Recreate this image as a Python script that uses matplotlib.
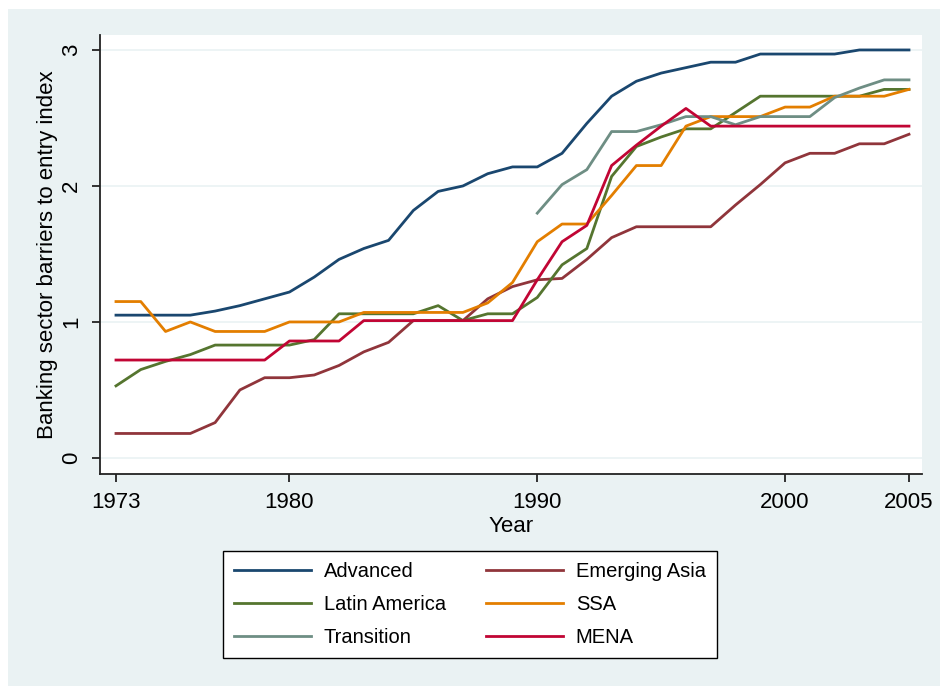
import numpy as np
import matplotlib
matplotlib.use('Agg')
import matplotlib.pyplot as plt
from matplotlib.patches import Rectangle

plt.rcParams['font.family'] = ['Liberation Sans', 'DejaVu Sans']

years = list(range(1973, 2006))

advanced = [1.05, 1.05, 1.05, 1.05, 1.08, 1.12, 1.17, 1.22, 1.33, 1.46, 1.54,
            1.60, 1.82, 1.96, 2.00, 2.09, 2.14, 2.14, 2.24, 2.46, 2.66, 2.77,
            2.83, 2.87, 2.91, 2.91, 2.97, 2.97, 2.97, 2.97, 3.00, 3.00, 3.00]
emerging_asia = [0.18, 0.18, 0.18, 0.18, 0.26, 0.50, 0.59, 0.59, 0.61, 0.68, 0.78,
                 0.85, 1.01, 1.01, 1.01, 1.17, 1.26, 1.31, 1.32, 1.46, 1.62, 1.70,
                 1.70, 1.70, 1.70, 1.86, 2.01, 2.17, 2.24, 2.24, 2.31, 2.31, 2.38]
latin_america = [0.53, 0.65, 0.71, 0.76, 0.83, 0.83, 0.83, 0.83, 0.87, 1.06, 1.06,
                 1.06, 1.06, 1.12, 1.01, 1.06, 1.06, 1.18, 1.42, 1.54, 2.07, 2.29,
                 2.36, 2.42, 2.42, 2.54, 2.66, 2.66, 2.66, 2.66, 2.66, 2.71, 2.71]
ssa = [1.15, 1.15, 0.93, 1.00, 0.93, 0.93, 0.93, 1.00, 1.00, 1.00, 1.07,
       1.07, 1.07, 1.07, 1.07, 1.14, 1.29, 1.59, 1.72, 1.72, 1.93, 2.15,
       2.15, 2.44, 2.51, 2.51, 2.51, 2.58, 2.58, 2.66, 2.66, 2.66, 2.71]
transition = [np.nan] * 17 + [1.80, 2.01, 2.12, 2.40, 2.40, 2.45, 2.51, 2.51,
                              2.45, 2.51, 2.51, 2.51, 2.65, 2.72, 2.78, 2.78]
mena = [0.72, 0.72, 0.72, 0.72, 0.72, 0.72, 0.72, 0.86, 0.86, 0.86, 1.01,
        1.01, 1.01, 1.01, 1.01, 1.01, 1.01, 1.31, 1.59, 1.71, 2.15, 2.30,
        2.44, 2.57, 2.44, 2.44, 2.44, 2.44, 2.44, 2.44, 2.44, 2.44, 2.44]

xticks = [1973, 1980, 1990, 2000, 2005]
yticks = [0, 1, 2, 3]

bg = '#EAF2F3'

fig = plt.figure(figsize=(9.4, 6.86), dpi=100)
fig.patch.set_facecolor('white')
fig.patches.append(Rectangle((8 / 940, 0), 932 / 940, 677 / 686,
                             transform=fig.transFigure, facecolor=bg,
                             edgecolor='none', zorder=-10))

ax = fig.add_axes([100 / 940, 1 - 474 / 686, 822 / 940, 439 / 686])
ax.set_facecolor('white')

lw = 2.0
l_adv, = ax.plot(years, advanced, color='#1A476F', lw=lw, label='Advanced')
l_ea, = ax.plot(years, emerging_asia, color='#90353B', lw=lw, label='Emerging Asia')
l_la, = ax.plot(years, latin_america, color='#55752F', lw=lw, label='Latin America')
l_ssa, = ax.plot(years, ssa, color='#E37E00', lw=lw, label='SSA')
l_tr, = ax.plot(years, transition, color='#6E8E84', lw=lw, label='Transition')
l_me, = ax.plot(years, mena, color='#C10534', lw=lw, label='MENA')

ax.set_xlim(1972.355, 2005.525)
ax.set_ylim(-0.118, 3.11)
ax.set_xticks(xticks)
ax.set_yticks(yticks)
ax.yaxis.grid(True, color=bg, lw=1.2)
ax.set_axisbelow(True)

for s in ['top', 'right']:
    ax.spines[s].set_visible(False)
for s in ['left', 'bottom']:
    ax.spines[s].set_color('#222222')
    ax.spines[s].set_linewidth(1.3)

ax.tick_params(axis='both', length=6, width=1.3, color='#222222',
               labelsize=16, pad=7)
for lab in ax.get_yticklabels():
    lab.set_rotation(90)
    lab.set_va('center')

ax.set_xlabel('Year', fontsize=16, labelpad=2)
ax.set_ylabel('Banking sector barriers to entry index', fontsize=16, labelpad=2)

handles = [l_adv, l_la, l_tr, l_ea, l_ssa, l_me]
leg = fig.legend(handles=handles, labels=[h.get_label() for h in handles],
                 ncol=2, loc='center', bbox_to_anchor=(470 / 940, 1 - 604.5 / 686),
                 fontsize=14.5, frameon=True, fancybox=False, edgecolor='black',
                 facecolor='white', framealpha=1, handlelength=3.8,
                 handletextpad=0.65, columnspacing=2.0, labelspacing=0.69,
                 borderpad=0.55)
leg.get_frame().set_linewidth(1.0)

fig.savefig('out.png', dpi=100, facecolor=fig.get_facecolor())
